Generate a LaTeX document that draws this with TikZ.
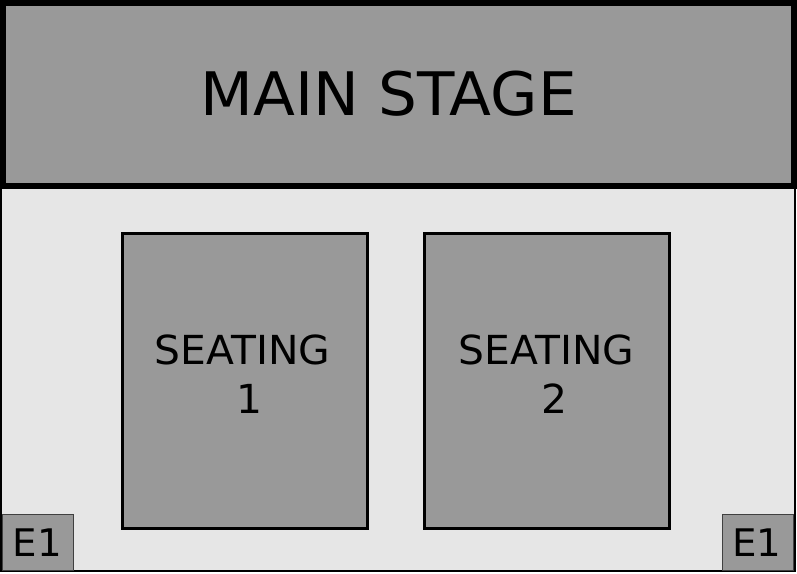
\documentclass[tikz,border=0pt]{standalone}
\usepackage{fontspec}
\setmainfont{DejaVu Sans}[FakeStretch=1.02]
\definecolor{stagegray}{HTML}{999999}
\definecolor{floorgray}{HTML}{E6E6E6}
\begin{document}
\begin{tikzpicture}[x=1pt,y=-1pt,
  box/.style={draw=black,fill=stagegray,line width=3pt},
  exitbox/.style={draw=black!75,fill=stagegray,line width=1pt},
  lbl/.style={inner sep=0pt,anchor=base,font=\fontsize{40}{48}\selectfont},
  elbl/.style={inner sep=0pt,anchor=base,font=\fontsize{38}{46}\selectfont}]
\useasboundingbox (0,0) rectangle (797,573);
% floor
\draw[fill=floorgray,line width=2.5pt] (1,186) rectangle (795,571);
% main stage
\draw[fill=stagegray,line width=6pt] (3,3) rectangle (794,186);
\node[inner sep=0pt,font=\fontsize{60}{72}\selectfont] (stage) at (388.5,94) {MAIN STAGE};
% seating blocks
\draw[box] (122.5,233.5) rectangle (367.5,528.5);
\draw[box] (424.5,233.5) rectangle (669.5,528.5);
\node[lbl] (s1a) at (242.5,364) {SEATING};
\node[lbl] (s1b) at (249,413) {1};
\node[lbl] (s2a) at (546.5,364) {SEATING};
\node[lbl] (s2b) at (554,413) {2};
% exits
\draw[exitbox] (2.5,514.5) rectangle (73.5,570.5);
\draw[exitbox] (722.5,514.5) rectangle (793.5,570.5);
\node[elbl] (e1l) at (37.5,556) {E1};
\node[elbl] (e1r) at (757,556) {E1};
\end{tikzpicture}
\end{document}
